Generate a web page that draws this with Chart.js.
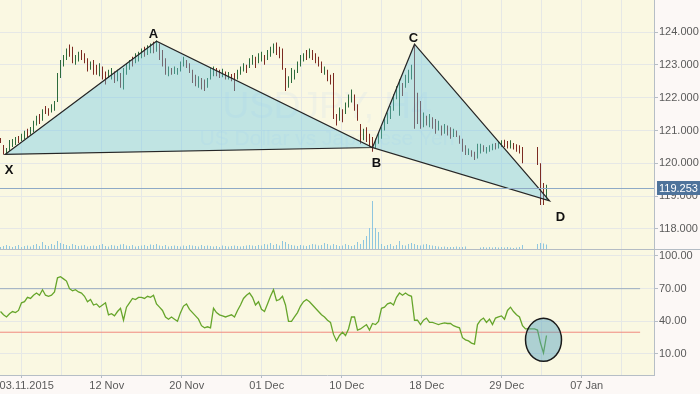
<!DOCTYPE html>
<html>
<head>
<meta charset="utf-8">
<script src="https://cdn.jsdelivr.net/npm/chart.js@4.4.1/dist/chart.umd.min.js"></script>
<style>
  html, body { margin: 0; padding: 0; background: #fcf8f6; }
  #wrap { position: relative; width: 700px; height: 394px; overflow: hidden; }
  #priceChart { position: absolute; left: 0; top: 0; }
  #rsiChart { position: absolute; left: 0; top: 250px; }
</style>
</head>
<body>
<div id="wrap">
  <canvas id="priceChart" width="700" height="250"></canvas>
  <canvas id="rsiChart" width="700" height="144"></canvas>
</div>
<script>
const symbol = "USDJPY, H4";
const symbolName = "US Dollar vs Japanese Yen";
const xLabels = ["03.11.2015", "12 Nov", "20 Nov", "01 Dec", "10 Dec", "18 Dec", "29 Dec", "07 Jan"];
const priceTicks = [118, 119, 120, 121, 122, 123, 124];
const rsiTicks = [10, 40, 70, 100];
const rsiLevels = [70, 30];
const lastPrice = 119.253;

// H4 bars (high / low), null = no trading
const barHigh = [
  120.77,120.56,120.47,120.71,120.74,120.80,120.83,120.90,120.99,121.05,
  121.11,121.30,121.45,121.50,121.65,121.75,121.68,121.80,121.90,122.75,
  123.15,123.30,123.50,123.62,123.55,123.30,123.40,123.45,123.35,123.20,
  123.10,123.15,123.00,123.05,122.95,122.80,122.85,122.90,122.80,122.85,
  122.75,122.90,123.05,123.15,123.25,123.35,123.40,123.50,123.55,123.60,
  123.65,123.70,123.74,123.65,123.45,123.20,122.95,122.90,122.95,122.90,
  123.10,123.25,123.15,123.05,122.85,122.70,122.65,122.60,122.55,122.60,
  122.90,122.95,122.90,122.85,122.88,122.80,122.78,122.72,122.75,122.85,
  122.95,123.05,123.00,123.20,123.30,123.25,123.35,123.40,123.30,123.45,
  123.55,123.65,123.68,123.55,123.50,122.90,122.65,122.90,122.85,123.10,
  123.30,123.35,123.45,123.50,123.45,123.35,123.25,123.10,122.95,122.85,
  122.70,122.75,121.50,121.70,121.65,121.85,122.10,122.25,122.10,121.80,
  121.20,121.05,121.10,120.90,120.80,120.75,120.95,121.10,121.40,121.55,
  121.75,122.10,122.35,122.55,122.45,122.70,122.85,123.00,123.63,122.15,
  121.90,121.55,121.45,121.50,121.40,121.35,121.30,121.15,121.20,121.15,
  121.10,121.05,121.00,120.85,120.75,120.55,120.45,120.40,120.35,120.60,
  120.60,120.55,120.50,120.55,120.60,120.62,120.65,120.70,120.72,120.68,
  120.70,120.62,120.58,120.55,120.50,null,null,null,null,120.50,
  120.00,119.40,119.35
];
const barLow = [
  120.62,120.27,120.30,120.38,120.50,120.56,120.62,120.68,120.74,120.80,
  120.87,120.95,121.15,121.20,121.30,121.50,121.45,121.55,121.60,121.87,
  122.60,122.95,123.15,123.25,123.05,123.00,123.10,123.15,123.05,122.80,
  122.85,122.70,122.70,122.65,122.55,122.40,122.60,122.55,122.45,122.50,
  122.30,122.25,122.70,122.85,122.95,123.05,123.10,123.20,123.25,123.30,
  123.35,123.35,123.40,123.15,122.95,122.70,122.65,122.70,122.72,122.70,
  122.80,122.95,122.90,122.75,122.45,122.35,122.30,122.25,122.20,122.30,
  122.55,122.65,122.65,122.60,122.62,122.55,122.55,122.50,122.20,122.55,
  122.70,122.80,122.75,122.90,123.00,122.90,123.05,123.10,123.00,123.15,
  123.25,123.35,123.30,123.20,122.85,122.20,122.30,122.45,122.55,122.75,
  122.95,123.10,123.15,123.20,123.15,123.05,122.95,122.75,122.70,122.50,
  122.40,121.35,121.15,121.30,121.25,121.50,121.70,121.85,121.60,121.30,
  120.60,120.70,120.65,120.50,120.35,120.45,120.60,120.75,121.00,121.20,
  121.35,121.60,121.95,121.45,122.05,122.30,122.45,122.55,121.05,121.20,
  121.05,121.10,121.15,121.10,121.05,120.90,121.00,120.85,120.90,120.85,
  120.75,120.80,120.80,120.60,120.35,120.25,120.25,120.20,120.10,120.15,
  120.30,120.35,120.30,120.35,120.40,120.42,120.45,120.50,120.50,120.45,
  120.45,120.42,120.35,120.30,120.00,null,null,null,null,119.95,
  118.73,118.73,118.90
];
const barDir = (
  "dduuuuduud" + "uuududduuu" + "uuudduuddd" + "uddudduudu" + "duuuduuudu" +
  "ududdduduu" + "uudddduddu" + "uuddududdu" + "uuduuduudu" + "uudddduuuu" +
  "uududdddud" + "ddduduuudd" + "duddduuuuu" + "uuuuduuudd" + "dududdudud" +
  "dudddduddu" + "uduuuduudd" + "udddd----d" + "ddu"
).split("");
const volume = [
  30,40,50,40,30,40,50,30,40,45,
  35,50,60,40,80,50,40,60,50,90,
  70,60,50,40,60,50,40,45,50,35,
  40,45,40,50,60,40,35,50,45,40,
  55,60,45,40,50,35,40,45,50,40,
  55,50,60,45,40,50,35,40,45,40,
  35,45,40,50,45,40,35,50,40,45,
  40,35,40,30,45,40,35,40,45,40,
  35,40,45,50,45,40,50,45,60,55,
  70,50,60,45,90,80,60,50,45,40,
  50,45,40,50,60,55,45,50,70,60,
  45,60,50,40,45,60,50,40,50,80,
  60,100,140,220,490,220,180,60,40,50,
  60,40,50,90,50,45,60,70,60,50,
  45,55,60,50,45,40,35,30,35,30,
  30,30,35,30,30,35,null,null,null,null,
  25,30,25,30,25,30,25,30,25,30,
  25,20,25,30,50,null,null,null,null,60,
  70,65,55
];
const rsi = [
  49,46,44,47,49,48,50,57,58,62,
  61,64,66,64,69,64,63,64,67,80,
  81,79,77,70,68,69,67,66,63,58,
  60,55,56,53,55,57,46,47,45,49,
  52,41,53,57,61,60,62,62,61,63,
  62,64,56,53,50,44,42,44,42,40,
  48,54,56,51,48,45,42,36,34,35,
  34,52,48,46,45,44,45,46,44,50,
  55,61,64,66,62,55,58,51,49,56,
  63,69,59,60,63,55,40,40,44,48,
  54,58,60,58,55,52,49,46,44,41,
  39,28,22,27,30,27,33,44,44,32,
  33,35,37,32,38,37,40,52,53,56,
  57,55,62,66,64,66,64,63,41,41,
  37,41,43,39,39,38,37,38,38.5,38,
  38,36,35,34,25,23,22,20,19,37,
  41,43,39,42,37,43,44,45,42,50,
  53,49,46,44,36,33,33,33,33,32,
  20,11,27
];

// harmonic pattern points (bar index, price)
const patternNames = ["X", "A", "B", "C", "D"];
const patternBar = [1.5, 52, 124, 138, 183];
const patternPrice = [120.27, 123.72, 120.48, 123.63, 118.86];
const rsiMarker = { bar: 181, value: 23 };

// layout / style
const X_MIN = -1 / 6;
const X_MAX = 654 / 3 - 1 / 6;
const GRID_START = 7.07;
const GRID_STEP = 40 / 3;
const LEVEL_END = 213.2;
const GRID = "#e6e8e6";
const AXIS = "#b6bec6";
const TEXT = "#5a5a5a";
const UP = "#2d6b3c";
const DOWN = "#7c2b22";
const sans = '"Liberation Sans", Arial, sans-serif';
const tickFont = { family: sans, size: 11 };
const labelOffsets = [[4, 16], [-3, -7], [4, 16], [-1, -6], [11, 17]];

const gridValues = Array.from({ length: 16 }, (_, k) => GRID_START + k * GRID_STEP);

function xScale(showLabels) {
  return {
    type: "linear",
    min: X_MIN,
    max: X_MAX,
    bounds: "data",
    offset: false,
    afterBuildTicks: (s) => { s.ticks = gridValues.map((v) => ({ value: v })); },
    afterFit: (s) => {
      s.height = showLabels ? 19 : 0;
      s.paddingLeft = 0;
      s.paddingRight = 0;
    },
    grid: {
      color: GRID,
      offset: false,
      drawTicks: showLabels,
      tickLength: 3,
      tickColor: (c) => (c.index % 2 ? "rgba(0,0,0,0)" : AXIS),
    },
    border: { display: showLabels, color: AXIS },
    ticks: {
      display: showLabels,
      autoSkip: false,
      maxRotation: 0,
      padding: 1,
      labelOffset: 5,
      font: tickFont,
      color: TEXT,
      callback: (v, i) => (i % 2 ? "" : xLabels[i / 2] || ""),
    },
  };
}

function yScale(min, max, ticks, digits) {
  return {
    position: "right",
    min,
    max,
    bounds: "data",
    afterBuildTicks: (s) => { s.ticks = ticks.map((v) => ({ value: v })); },
    afterFit: (s) => {
      s.width = 46;
      s.paddingTop = 0;
      s.paddingBottom = 0;
    },
    grid: { color: GRID, tickLength: 4, tickColor: AXIS },
    border: { color: AXIS },
    ticks: { font: tickFont, color: TEXT, padding: 1, callback: (v) => Number(v).toFixed(digits) },
  };
}

const background = {
  id: "background",
  beforeDraw(chart) {
    const { ctx, chartArea: a } = chart;
    ctx.save();
    ctx.fillStyle = "#fcf8f6";
    ctx.fillRect(0, 0, chart.width, chart.height);
    ctx.fillStyle = "#faf8e2";
    ctx.fillRect(a.left, a.top, a.right - a.left, a.bottom - a.top);
    ctx.restore();
  },
};

const watermark = {
  id: "watermark",
  beforeDatasetsDraw(chart) {
    const { ctx, chartArea: a } = chart;
    const cx = (a.left + a.right) / 2;
    ctx.save();
    ctx.fillStyle = "rgba(200,220,240,0.2)";
    ctx.textAlign = "center";
    ctx.textBaseline = "alphabetic";
    ctx.font = "37px " + sans;
    ctx.fillText(symbol, cx, 118);
    ctx.font = "21px " + sans;
    ctx.fillText(symbolName, cx, 145);
    ctx.restore();
  },
};

const pattern = {
  id: "pattern",
  afterDatasetsDraw(chart) {
    const { ctx } = chart;
    const { x, y } = chart.scales;
    const pts = patternNames.map((_, i) => [x.getPixelForValue(patternBar[i]), y.getPixelForValue(patternPrice[i])]);
    ctx.save();
    [[0, 1, 2], [2, 3, 4]].forEach((tri) => {
      ctx.beginPath();
      tri.forEach((k, j) => (j ? ctx.lineTo(pts[k][0], pts[k][1]) : ctx.moveTo(pts[k][0], pts[k][1])));
      ctx.closePath();
      ctx.fillStyle = "rgba(105,197,230,0.4)";
      ctx.fill();
      ctx.strokeStyle = "#262626";
      ctx.lineWidth = 1.2;
      ctx.stroke();
    });
    ctx.fillStyle = "#111";
    ctx.font = "bold 13px " + sans;
    ctx.textAlign = "center";
    ctx.textBaseline = "middle";
    patternNames.forEach((n, i) => {
      ctx.fillText(n, pts[i][0] + labelOffsets[i][0], pts[i][1] + labelOffsets[i][1]);
    });
    ctx.restore();
  },
};

const priceLine = {
  id: "priceLine",
  afterDraw(chart) {
    const { ctx, chartArea: a } = chart;
    const py = Math.round(chart.scales.y.getPixelForValue(lastPrice)) + 0.5;
    ctx.save();
    ctx.strokeStyle = "#8eaac6";
    ctx.lineWidth = 1;
    ctx.beginPath();
    ctx.moveTo(a.left, py);
    ctx.lineTo(a.right, py);
    ctx.stroke();
    ctx.fillStyle = "#4e739b";
    ctx.fillRect(a.right + 3, py - 7.5, 43, 14);
    ctx.fillStyle = "#fff";
    ctx.font = "11px " + sans;
    ctx.textBaseline = "middle";
    ctx.textAlign = "left";
    ctx.fillText(lastPrice.toFixed(3), a.right + 5, py + 0.5);
    // panel separator
    ctx.strokeStyle = "#b4bcc4";
    ctx.beginPath();
    ctx.moveTo(0, a.bottom - 0.5);
    ctx.lineTo(chart.width, a.bottom - 0.5);
    ctx.stroke();
    ctx.restore();
  },
};

const marker = {
  id: "marker",
  afterDatasetsDraw(chart) {
    const { ctx } = chart;
    const { x, y } = chart.scales;
    ctx.save();
    ctx.beginPath();
    ctx.ellipse(x.getPixelForValue(rsiMarker.bar), y.getPixelForValue(rsiMarker.value), 18, 21.5, 0, 0, Math.PI * 2);
    ctx.fillStyle = "rgba(80,160,190,0.45)";
    ctx.fill();
    ctx.strokeStyle = "#1a1a1a";
    ctx.lineWidth = 1.5;
    ctx.stroke();
    ctx.restore();
  },
};

const priceBars = [];
const barColors = [];
barHigh.forEach((hi, i) => {
  if (hi === null) return;
  priceBars.push({ x: i, y: [barLow[i], hi] });
  barColors.push(barDir[i] === "u" ? UP : DOWN);
});
const volBars = [];
volume.forEach((v, i) => {
  if (v !== null) volBars.push({ x: i, y: v });
});

new Chart(document.getElementById("priceChart"), {
  type: "bar",
  data: {
    datasets: [
      {
        data: priceBars,
        yAxisID: "y",
        backgroundColor: barColors,
        barThickness: 1,
        inflateAmount: 0,
        grouped: false,
        borderWidth: 0,
      },
      {
        data: volBars,
        yAxisID: "vol",
        backgroundColor: "#8ec6df",
        barThickness: 1,
        inflateAmount: 0,
        grouped: false,
        borderWidth: 0,
      },
    ],
  },
  options: {
    responsive: false,
    animation: false,
    devicePixelRatio: 1,
    layout: { padding: 0 },
    plugins: { legend: { display: false }, tooltip: { enabled: false } },
    scales: {
      x: xScale(false),
      y: yScale(117.36, 124.975, priceTicks, 3),
      vol: { display: false, min: 0, max: 2500 },
    },
  },
  plugins: [background, watermark, pattern, priceLine],
});

new Chart(document.getElementById("rsiChart"), {
  type: "line",
  data: {
    datasets: [
      {
        data: rsi.map((v, i) => ({ x: i, y: v })),
        borderColor: "#66a52b",
        borderWidth: 1.3,
        pointRadius: 0,
        tension: 0,
        spanGaps: true,
      },
      ...rsiLevels.map((lvl, k) => ({
        data: [{ x: X_MIN, y: lvl }, { x: LEVEL_END, y: lvl }],
        borderColor: k === 0 ? "#9cadc0" : "#f08a7e",
        borderWidth: 1,
        pointRadius: 0,
      })),
    ],
  },
  options: {
    responsive: false,
    animation: false,
    devicePixelRatio: 1,
    layout: { padding: 0 },
    plugins: { legend: { display: false }, tooltip: { enabled: false } },
    scales: {
      x: xScale(true),
      y: yScale(-9.29, 105.51, rsiTicks, 2),
    },
  },
  plugins: [background, marker],
});
</script>
</body>
</html>
